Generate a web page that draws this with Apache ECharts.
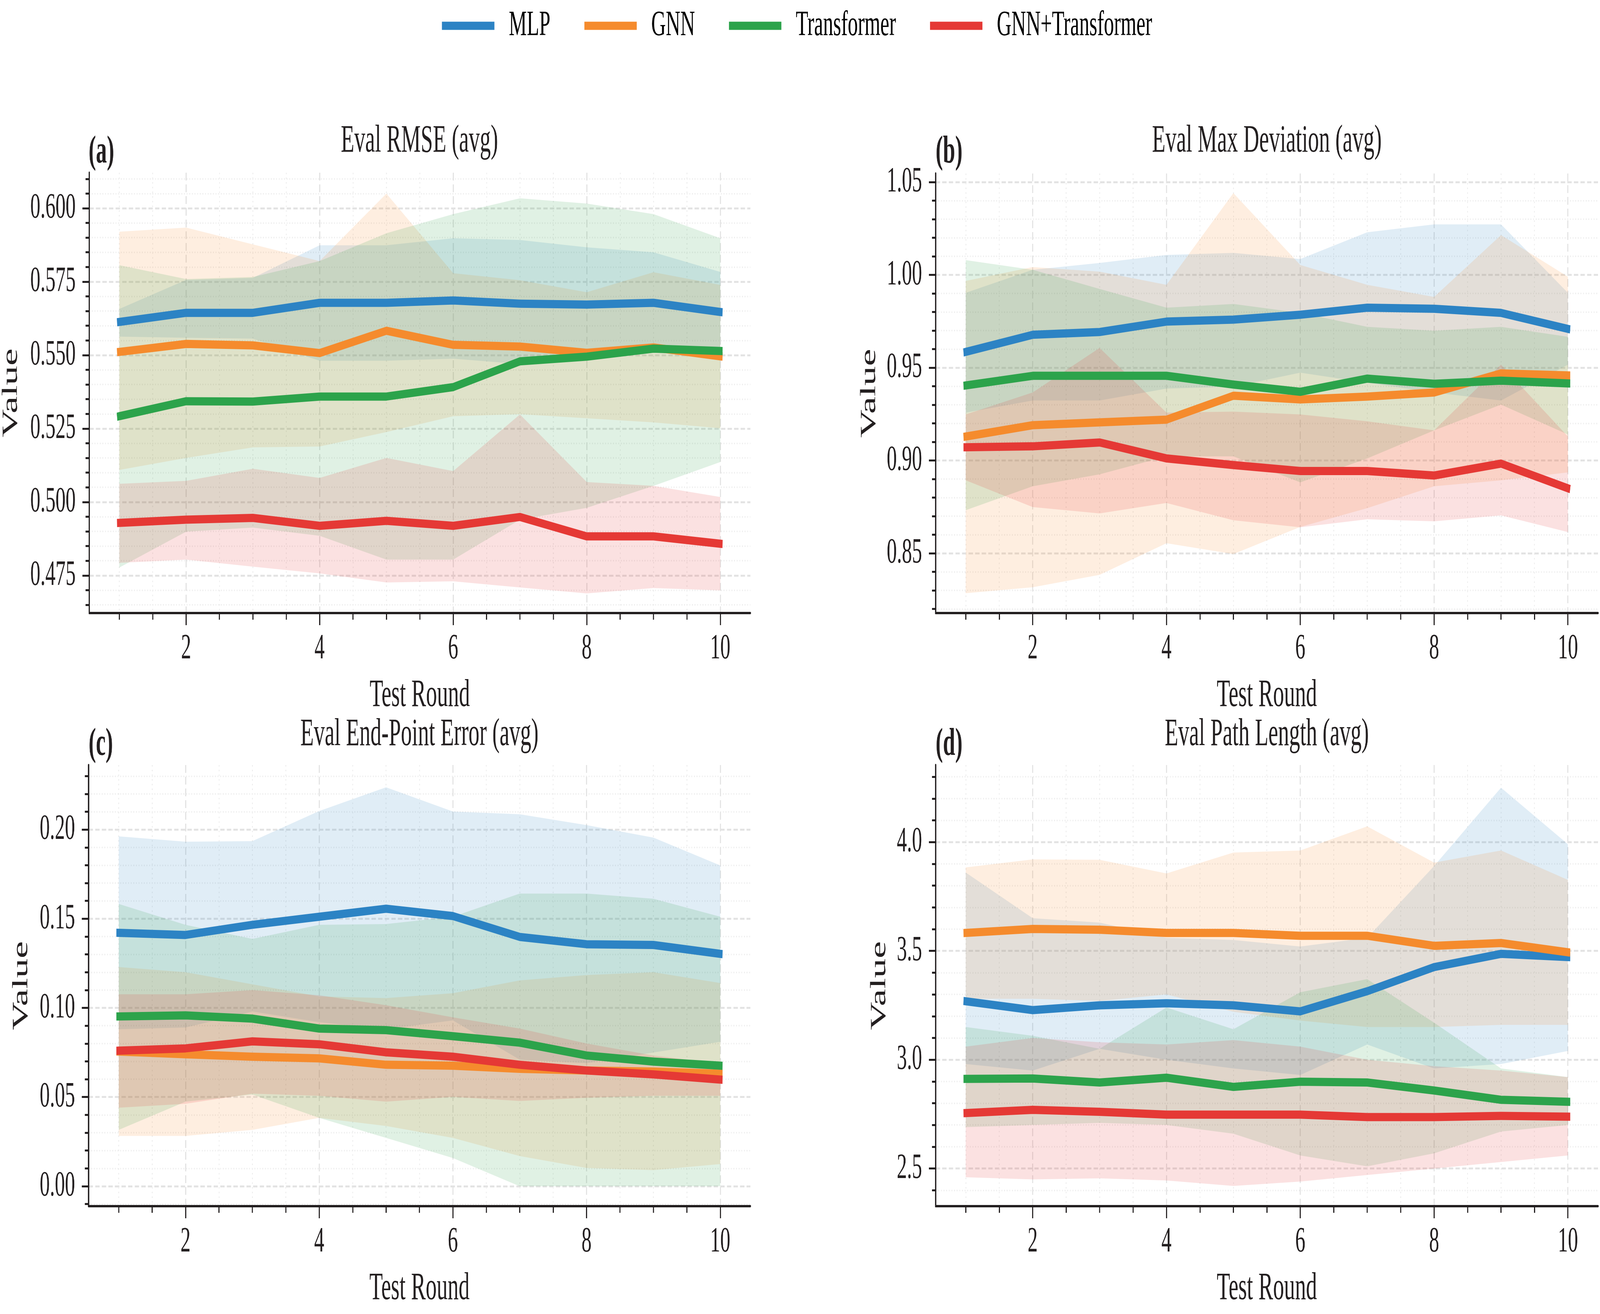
<!DOCTYPE html>
<html><head><meta charset="utf-8">
<script src="https://cdn.jsdelivr.net/npm/echarts@6/dist/echarts.min.js"></script>
<style>html,body{margin:0;padding:0;background:#fff;overflow:hidden}#c{position:absolute;left:0;top:0;width:7295px;height:3363px;transform-origin:0 0}</style>
</head><body><div id="c"></div>
<script>
// ---------- data ----------
const rounds = [1,2,3,4,5,6,7,8,9,10];
const modelNames = ['MLP','GNN','Transformer','GNN+Transformer'];
const modelColors = ['#2C83C4','#F58B2D','#2CA34B','#E53935'];
const bandColors = ['rgba(44,131,196,0.15)','rgba(245,139,45,0.15)','rgba(44,163,75,0.15)','rgba(229,57,53,0.15)'];
const xMajorTicks = [2,4,6,8,10];
const xMinorTicks = [1,1.5,2.5,3,3.5,4.5,5,5.5,6.5,7,7.5,8.5,9,9.5];

// (a) Eval RMSE
const aMLP   = [0.5613,0.5644,0.5644,0.5678,0.5678,0.5686,0.5675,0.5672,0.5678,0.5647];
const aMLPlo = [0.5563,0.5559,0.5556,0.5481,0.5481,0.5488,0.5470,0.5508,0.5525,0.5508];
const aMLPhi = [0.5657,0.5756,0.5763,0.5874,0.5874,0.5898,0.5892,0.5867,0.5850,0.5783];
const aGNN   = [0.5511,0.5538,0.5533,0.5507,0.5583,0.5535,0.5529,0.5508,0.5526,0.5496];
const aGNNlo = [0.5109,0.5150,0.5186,0.5189,0.5238,0.5292,0.5299,0.5285,0.5271,0.5251];
const aGNNhi = [0.5920,0.5934,0.5877,0.5820,0.6050,0.5779,0.5755,0.5714,0.5782,0.5739];
const aTrf   = [0.5292,0.5343,0.5342,0.5359,0.5359,0.5391,0.5479,0.5495,0.5522,0.5514];
const aTrflo = [0.4777,0.4899,0.4913,0.4885,0.4804,0.4804,0.4940,0.4980,0.5055,0.5136];
const aTrfhi = [0.5806,0.5759,0.5766,0.5820,0.5915,0.5980,0.6034,0.6016,0.5980,0.5898];
const aHyb   = [0.4929,0.4940,0.4946,0.4919,0.4936,0.4919,0.4949,0.4883,0.4883,0.4858];
const aHyblo = [0.4793,0.4804,0.4780,0.4757,0.4726,0.4730,0.4709,0.4689,0.4707,0.4699];
const aHybhi = [0.5062,0.5072,0.5113,0.5082,0.5150,0.5105,0.5298,0.5068,0.5055,0.5017];
const aMajor = [0.475,0.5,0.525,0.55,0.575,0.6];
const aMinor = [0.465,0.47,0.48,0.485,0.49,0.495,0.505,0.51,0.515,0.52,0.53,0.535,0.54,0.545,0.555,0.56,0.565,0.57,0.58,0.585,0.59,0.595,0.605,0.61];

// (b) Eval Max Deviation
const bMLP   = [0.9585,0.9677,0.9692,0.9748,0.9759,0.9785,0.9823,0.9817,0.9795,0.9709];
const bMLPlo = [0.9258,0.9323,0.9323,0.9387,0.9398,0.9473,0.9419,0.9366,0.9323,0.9516];
const bMLPhi = [0.9903,1.0027,1.0064,1.0107,1.0118,1.0085,1.0229,1.0272,1.0272,0.9903];
const bGNN   = [0.9129,0.9190,0.9205,0.9220,0.9349,0.9329,0.9344,0.9366,0.9469,0.9458];
const bGNNlo = [0.8285,0.8317,0.8384,0.8554,0.8496,0.8642,0.8743,0.8861,0.8893,0.8936];
const bGNNhi = [0.9967,1.0042,1.0017,0.9946,1.0440,1.0053,0.9946,0.9881,1.0214,0.9990];
const bTrf   = [0.9404,0.9456,0.9456,0.9456,0.9409,0.9370,0.9441,0.9413,0.9430,0.9415];
const bTrflo = [0.8732,0.8861,0.8925,0.9022,0.9022,0.8882,0.9011,0.9162,0.9301,0.9140];
const bTrfhi = [1.0079,1.0027,0.9924,0.9823,0.9843,0.9795,0.9720,0.9699,0.9720,0.9666];
const bHyb   = [0.9071,0.9076,0.9097,0.9011,0.8975,0.8943,0.8943,0.8919,0.8983,0.8850];
const bHyblo = [0.8893,0.8749,0.8715,0.8771,0.8678,0.8640,0.8683,0.8672,0.8704,0.8614];
const bHybhi = [0.9248,0.9366,0.9606,0.9258,0.9263,0.9248,0.9211,0.9162,0.9516,0.9129];
const bMajor = [0.85,0.9,0.95,1.0,1.05];
const bMinor = [0.82,0.83,0.84,0.86,0.87,0.88,0.89,0.91,0.92,0.93,0.94,0.96,0.97,0.98,0.99,1.01,1.02,1.03,1.04];

// (c) Eval End-Point Error
const cMLP   = [0.1421,0.1409,0.1466,0.1511,0.1556,0.1515,0.1398,0.1357,0.1353,0.1303];
const cMLPlo = [0.088,0.089,0.098,0.092,0.088,0.093,0.071,0.069,0.075,0.081];
const cMLPhi = [0.1962,0.1932,0.1935,0.2104,0.2237,0.2101,0.2086,0.2025,0.1955,0.1799];
const cGNN   = [0.0755,0.0740,0.0726,0.0717,0.0681,0.0676,0.0658,0.0649,0.0643,0.0631];
const cGNNlo = [0.0282,0.0282,0.0316,0.0383,0.0338,0.0271,0.0169,0.0102,0.0090,0.0124];
const cGNNhi = [0.1229,0.1200,0.1132,0.1064,0.1055,0.1082,0.1154,0.1184,0.1200,0.1139];
const cTrf   = [0.0952,0.0958,0.0940,0.0884,0.0875,0.0841,0.0805,0.0733,0.0699,0.0676];
const cTrflo = [0.0316,0.0474,0.0514,0.0383,0.0271,0.0158,0.0,0.0,0.0,0.0];
const cTrfhi = [0.1583,0.1466,0.1387,0.1466,0.1470,0.1511,0.1641,0.1641,0.1612,0.1511];
const cHyb   = [0.0760,0.0773,0.0812,0.0796,0.0751,0.0726,0.0681,0.0649,0.0627,0.0598];
const cHyblo = [0.0440,0.0462,0.0519,0.0507,0.0474,0.0501,0.0478,0.0496,0.0507,0.0507];
const cHybhi = [0.1076,0.1076,0.1100,0.1071,0.1015,0.0947,0.0884,0.0800,0.0733,0.0688];
const cMajor = [0,0.05,0.1,0.15,0.2];
const cMinor = [-0.01,0.01,0.02,0.03,0.04,0.06,0.07,0.08,0.09,0.11,0.12,0.13,0.14,0.16,0.17,0.18,0.19,0.21,0.22,0.23];

// (d) Eval Path Length
const dMLP   = [3.2684,3.2278,3.2499,3.2592,3.2499,3.2222,3.3146,3.4255,3.4864,3.4716];
const dMLPlo = [2.98,2.95,3.05,3.00,2.96,2.93,3.07,2.96,2.98,3.04];
const dMLPhi = [3.86,3.65,3.63,3.56,3.55,3.52,3.56,3.89,4.25,3.99];
const dGNN   = [3.5825,3.6010,3.5973,3.5825,3.5825,3.5696,3.5696,3.5234,3.5363,3.4938];
const dGNNlo = [3.28,3.28,3.27,3.30,3.22,3.18,3.15,3.15,3.16,3.16];
const dGNNhi = [3.8836,3.9206,3.9187,3.8559,3.9520,3.9612,4.0720,3.9058,3.9612,3.8263];
const dTrf   = [2.9119,2.9137,2.8952,2.9174,2.8749,2.8990,2.8952,2.8583,2.8158,2.8066];
const dTrflo = [2.69,2.70,2.71,2.70,2.66,2.56,2.51,2.57,2.67,2.70];
const dTrfhi = [3.15,3.11,3.05,3.24,3.14,3.31,3.37,3.17,2.96,2.92];
const dHyb   = [2.7548,2.7696,2.7604,2.7475,2.7475,2.7475,2.7364,2.7364,2.7419,2.7382];
const dHyblo = [2.46,2.45,2.455,2.445,2.42,2.44,2.47,2.50,2.53,2.56];
const dHybhi = [3.06,3.10,3.08,3.07,3.09,3.06,3.00,2.97,2.95,2.92];
const dMajor = [2.5,3.0,3.5,4.0];
const dMinor = [2.4,2.6,2.7,2.8,2.9,3.1,3.2,3.3,3.4,3.6,3.7,3.8,3.9,4.1,4.2,4.3];

// ---------- layout (reference pixels; the whole 7295x3363 chart is fitted to the window) ----------
const FONT = '"Liberation Serif","Times New Roman",serif';
const INK = '#231f20';
const panels = [
  {title:'Eval RMSE (avg)', tag:'(a)', left:404, top:442, width:3017, height:1127, yMin:0.4622, yMax:0.6121,
   major:aMajor, minor:aMinor, dec:3, nameGap:306, titleY:362, tagY:390,
   means:[aMLP,aGNN,aTrf,aHyb], los:[aMLPlo,aGNNlo,aTrflo,aHyblo], his:[aMLPhi,aGNNhi,aTrfhi,aHybhi]},
  {title:'Eval Max Deviation (avg)', tag:'(b)', left:4266, top:444, width:3020, height:1125, yMin:0.8178, yMax:1.0546,
   major:bMajor, minor:bMinor, dec:2, nameGap:252, titleY:362, tagY:390,
   means:[bMLP,bGNN,bTrf,bHyb], los:[bMLPlo,bGNNlo,bTrflo,bHyblo], his:[bMLPhi,bGNNhi,bTrfhi,bHybhi]},
  {title:'Eval End-Point Error (avg)', tag:'(c)', left:404, top:1958, width:3017, height:1129, yMin:-0.0112, yMax:0.2362,
   major:cMajor, minor:cMinor, dec:2, nameGap:256, titleY:1881, tagY:1906,
   means:[cMLP,cGNN,cTrf,cHyb], los:[cMLPlo,cGNNlo,cTrflo,cHyblo], his:[cMLPhi,cGNNhi,cTrfhi,cHybhi]},
  {title:'Eval Path Length (avg)', tag:'(d)', left:4266, top:1958, width:3020, height:1129, yMin:2.327, yMax:4.354,
   major:dMajor, minor:dMinor, dec:1, nameGap:206, titleY:1881, tagY:1906,
   means:[dMLP,dGNN,dTrf,dHyb], los:[dMLPlo,dGNNlo,dTrflo,dHyblo], his:[dMLPhi,dGNNhi,dTrfhi,dHybhi]}
];

const grids=[], xAxes=[], yAxes=[], series=[], graphics=[];
const majorGrid = {color:'#e3e3e3', width:5, type:[20,10]};
const minorGrid = {color:'#eeeeee', width:4, type:[4,8]};
panels.forEach((p,i)=>{
  grids.push({left:p.left, top:p.top, width:p.width, height:p.height, containLabel:false});
  xAxes.push({type:'value', gridIndex:i, min:0.55, max:10.45, position:'bottom',
    axisLine:{show:true, onZero:false, lineStyle:{color:INK, width:6}},
    axisTick:{show:true, customValues:xMajorTicks, length:31, lineStyle:{color:INK, width:5}},
    axisLabel:{show:true, customValues:xMajorTicks, margin:46, fontSize:92, fontFamily:FONT, color:INK, formatter:v=>String(v)},
    splitLine:{show:true, lineStyle:majorGrid},
    name:'Test Round', nameLocation:'middle', nameGap:162,
    nameTextStyle:{fontSize:100, fontFamily:FONT, color:INK}});
  xAxes.push({type:'value', gridIndex:i, min:0.55, max:10.45, position:'bottom',
    axisLine:{show:false, onZero:false}, axisLabel:{show:false},
    axisTick:{show:true, customValues:xMinorTicks, length:17, lineStyle:{color:INK, width:5}},
    splitLine:{show:true, lineStyle:minorGrid}});
  yAxes.push({type:'value', gridIndex:i, min:p.yMin, max:p.yMax, position:'left',
    axisLine:{show:true, onZero:false, lineStyle:{color:INK, width:6}},
    axisTick:{show:true, customValues:p.major, length:31, lineStyle:{color:INK, width:5}},
    axisLabel:{show:true, customValues:p.major, margin:62, fontSize:92, fontFamily:FONT, color:INK,
      formatter:(v)=>Number(v).toFixed(p.dec)},
    splitLine:{show:true, lineStyle:majorGrid},
    name:'Value', nameLocation:'middle', nameGap:p.nameGap,
    nameTextStyle:{fontSize:100, fontFamily:FONT, color:INK}});
  yAxes.push({type:'value', gridIndex:i, min:p.yMin, max:p.yMax, position:'left',
    axisLine:{show:false, onZero:false}, axisLabel:{show:false},
    axisTick:{show:true, customValues:p.minor, length:17, lineStyle:{color:INK, width:5}},
    splitLine:{show:true, lineStyle:minorGrid}});

  // shaded bands (polygon between lower and upper arrays, through the axis scales)
  modelNames.forEach((m,k)=>{
    const lo = p.los[k], hi = p.his[k];
    series.push({type:'custom', name:m+' band', xAxisIndex:i*2, yAxisIndex:i*2, silent:true, z:2,
      data: rounds.map((r,j)=>[r, lo[j], hi[j]]),
      encode:{x:0, y:[1,2]},
      renderItem:(params, api)=>{
        if (params.dataIndex !== 0) return null;
        const up = rounds.map((r,j)=>api.coord([r, hi[j]]));
        const dn = rounds.map((r,j)=>api.coord([r, lo[j]])).reverse();
        return {type:'polygon', shape:{points: up.concat(dn)}, style:{fill: bandColors[k], stroke:null}};
      }, animation:false});
  });
  // mean lines
  modelNames.forEach((m,k)=>{
    series.push({type:'line', name:m, xAxisIndex:i*2, yAxisIndex:i*2,
      data: rounds.map((r,j)=>[r, p.means[k][j]]), symbol:'none',
      itemStyle:{color:modelColors[k]},
      lineStyle:{color:modelColors[k], width:21, cap:'square', join:'round'}, z:4, animation:false});
  });

  graphics.push({type:'text', x:p.left+p.width/2, y:p.titleY,
    style:{text:p.title, font:'100px '+FONT, fill:INK, textAlign:'center', textVerticalAlign:'middle', align:'center', verticalAlign:'middle'}});
  graphics.push({type:'text', x:p.left, y:p.tagY,
    style:{text:p.tag, font:'bold 100px '+FONT, fill:INK, textAlign:'left', textVerticalAlign:'middle', align:'left', verticalAlign:'middle'}});
});

const el = document.getElementById('c');
const sx = (window.innerWidth || 7295) / 7295, sy = (window.innerHeight || 3363) / 3363;
el.style.transform = 'scale(' + sx + ',' + sy + ')';
const chart = echarts.init(el, null, {renderer:'canvas', width:7295, height:3363, devicePixelRatio:1});
chart.setOption({
  animation:false,
  backgroundColor:'#ffffff',
  legend:{top:20, left:2015, padding:0, itemWidth:239, itemHeight:21, itemGap:155, icon:'rect',
    data:modelNames, textStyle:{fontSize:92, fontFamily:FONT, color:'#000', padding:[0,0,0,61]}},
  grid:grids, xAxis:xAxes, yAxis:yAxes, series:series, graphic:graphics
});
</script></body></html>
